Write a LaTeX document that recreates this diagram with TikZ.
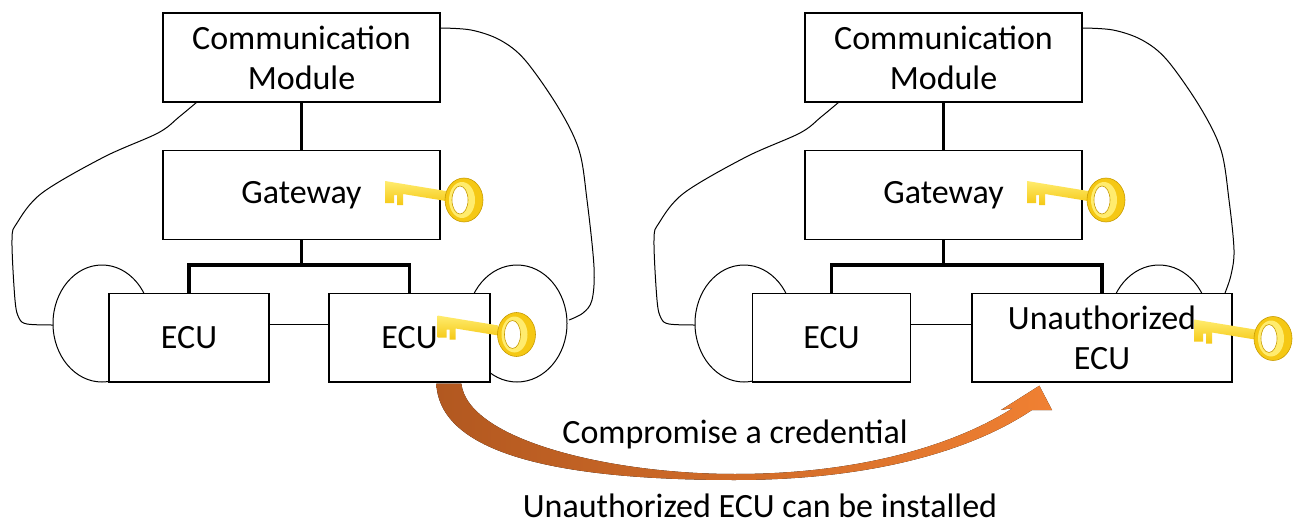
\documentclass[tikz,border=0pt]{standalone}
\usepackage{fontspec}
\setmainfont{Carlito}
\usetikzlibrary{calc}

\definecolor{keygold}{RGB}{245,200,20}
\definecolor{keylight}{RGB}{255,236,110}
\definecolor{keydark}{RGB}{200,155,0}
\definecolor{arrowdark}{RGB}{178,88,32}
\definecolor{arrowlight}{RGB}{240,128,50}

\tikzset{
  keyicon/.pic={
    % blade with two teeth
    \path[top color=keylight, bottom color=keygold]
      (-79,-19) -- (-18,-9) -- (-18,1) -- (-61,-6) -- (-61,5) -- (-67,5)
      -- (-67,-5) -- (-70,-5) -- (-70,3) -- (-79,3) -- cycle;
    % ring
    \path[fill=keygold, draw=keydark, line width=0.6pt] (0,0) ellipse [x radius=19pt, y radius=22pt];
    \path[fill=keylight] (-2,0) ellipse [x radius=13pt, y radius=18pt];
    \path[fill=white, draw=keydark, line width=0.6pt] (-4,0) ellipse [x radius=8pt, y radius=14pt];
  }
}

\begin{document}
\begin{tikzpicture}[x=1pt,y=-1pt,
  box/.style={draw=black, line width=1.3pt, fill=white, inner sep=0pt,
              align=center, font=\fontsize{34}{40}\selectfont},
  bus/.style={line width=3.2pt},
  body/.style={line width=1pt},
  link/.style={line width=1pt},
  lbl/.style={font=\fontsize{34}{40}\selectfont, inner sep=0pt, anchor=base},
]
\useasboundingbox (0,0) rectangle (1296,524);

% ---------- car outlines and wheels ----------
\foreach \dx in {0,642} {
  \begin{scope}[xshift=\dx pt]
    \draw[body] plot[smooth, tension=0.55] coordinates {
      (197,102) (179,117) (158,133) (104,157) (42,193) (17,223) (12,240)
      (15,300) (19,318) (27,324) (53,325)};
    \draw[body] (102,323.5) ellipse [x radius=49pt, y radius=58.5pt];
    \draw[body] (517,323.5) ellipse [x radius=50pt, y radius=58.5pt];
  \end{scope}
}
\draw[body] plot[smooth, tension=0.55] coordinates {
  (440,28) (471,30) (500,40) (525,60) (558,107) (579,150) (587,200)
  (594,267) (592,300) (583,313) (569,320)};
\draw[body] plot[smooth, tension=0.55] coordinates {
  (1082,28) (1113,30) (1142,40) (1167,60) (1200,107) (1221,150) (1229,200)
  (1234,250) (1231,275) (1225,293)};

% ---------- left car ----------
\node[box, minimum width=277pt, minimum height=89pt] (cm1) at (301.5,57.4) {Communication\\Module};
\node[box, minimum width=277pt, minimum height=88.6pt] (gw1) at (301.5,195) {Gateway};
\node[box, minimum width=160pt, minimum height=88.7pt] (ea1) at (189,337.7) {ECU};
\node[box, minimum width=161pt, minimum height=88.7pt] (eb1) at (409.5,337.7) {ECU};
\coordinate (bus1) at (301.5,265);
\draw[bus] (cm1.south) -- (gw1.north);
\draw[bus] (gw1.south) -- (bus1);
\draw[bus] (ea1.north) |- (bus1) -| (eb1.north);
\draw[link] ([yshift=13pt]ea1.east) -- ([yshift=13pt]eb1.west);

% ---------- right car ----------
\node[box, minimum width=277pt, minimum height=89pt] (cm2) at (943.5,57.4) {Communication\\Module};
\node[box, minimum width=277pt, minimum height=88.6pt] (gw2) at (943.5,195) {Gateway};
\node[box, minimum width=158pt, minimum height=88.7pt] (ea2) at (831.5,337.7) {ECU};
\node[box, minimum width=260pt, minimum height=88.7pt] (eu2) at (1102,337.7) {Unauthorized\\ECU};
\coordinate (bus2) at (943.5,265);
\draw[bus] (cm2.south) -- (gw2.north);
\draw[bus] (gw2.south) -- (bus2);
\draw[bus] (ea2.north) |- (bus2) -| (eu2.north);
\draw[link] ([yshift=13pt]ea2.east) -- ([yshift=13pt]eu2.west);

% ---------- keys ----------
\pic at (464,200) {keyicon};
\pic at (516.5,334.5) {keyicon};
\pic at (1106,200) {keyicon};
\pic at (1273,338.5) {keyicon};

% ---------- curved block arrow ----------
\coordinate (arrS) at ($(eb1.south west)+(108,1)$);
\coordinate (arrT) at ($(eu2.south west)+(68,3)$);
\fill[left color=arrowdark, right color=arrowlight]
  (arrS) -- ++(25,0)
  .. controls (468,440) and (610,474) .. (735,474)
  .. controls (860,474) and (955,445) .. (1013,408)
  -- (1001,410) -- (arrT) -- (1052,410) -- (1032,410)
  .. controls (965,455) and (860,480) .. (735,480)
  .. controls (580,480) and (440,460) .. (arrS) -- cycle;

% ---------- captions ----------
\node[lbl] (cap1) at (735,443) {Compromise a credential};
\node[lbl] (cap2) at (760,517) {Unauthorized ECU can be installed};
\end{tikzpicture}
\end{document}
